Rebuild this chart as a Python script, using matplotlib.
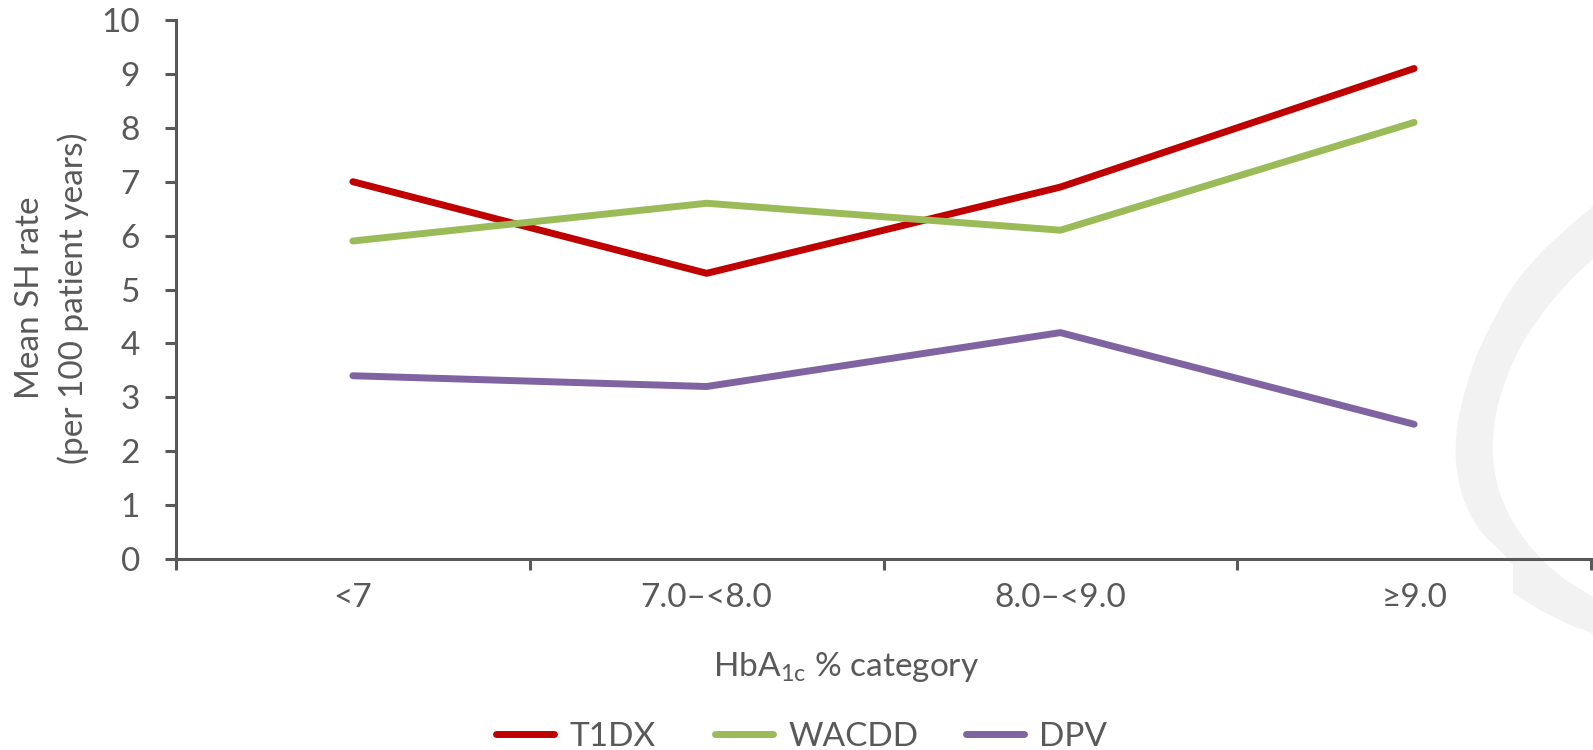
import numpy as np
import matplotlib
matplotlib.use("Agg")
import matplotlib.pyplot as plt
from matplotlib.patches import Polygon

categorias = ["<7", "7.0\u2013<8.0", "8.0\u2013<9.0", "\u22659.0"]
t1dx = [7.0, 5.3, 6.9, 9.1]
wacdd = [5.9, 6.6, 6.1, 8.1]
dpv = [3.4, 3.2, 4.2, 2.5]

series = [("T1DX", t1dx, "#C00000"),
          ("WACDD", wacdd, "#9BBB59"),
          ("DPV", dpv, "#8064A2")]

gris = "#595959"
plt.rcParams['font.family'] = ['Lato', 'DejaVu Sans']
plt.rcParams['font.size'] = 24

W, H = 1593, 750
fig = plt.figure(figsize=(W / 100, H / 100), dpi=100)


def suavizar(pts, veces=3):
    # Chaikin, solo para que la marca de agua no se vea poligonal
    p = np.array(pts, dtype=float)
    for _ in range(veces):
        q = 0.75 * p[:-1] + 0.25 * p[1:]
        r = 0.25 * p[:-1] + 0.75 * p[1:]
        nuevo = np.empty((2 * len(q), 2))
        nuevo[0::2] = q
        nuevo[1::2] = r
        p = np.vstack([p[:1], nuevo, p[-1:]])
    return p


# marca de agua gris claro a la derecha (en pixeles de figura)
exterior = [(1600, 200), (1565, 230), (1540, 253), (1513, 285), (1493, 320),
            (1475, 358), (1463, 397), (1457, 425), (1455, 453), (1458, 480),
            (1465, 505), (1480, 532), (1500, 550), (1513, 565)]
abajo = [(1513, 565), (1513, 593), (1540, 610), (1570, 625), (1600, 636)]
interior = [(1600, 601), (1560, 577), (1530, 548), (1508, 515), (1496, 483),
            (1492, 450), (1495, 415), (1505, 380), (1522, 342), (1548, 305),
            (1575, 275), (1600, 253)]
contorno = np.vstack([suavizar(exterior), np.array(abajo[1:], float),
                      suavizar(interior)])
puntos = [(x / W, 1 - y / H) for x, y in contorno]
fig.add_artist(Polygon(puntos, closed=True, transform=fig.transFigure,
                       facecolor="#F2F2F2", edgecolor="none", zorder=0))

ax = fig.add_axes([176 / W, 1 - 559 / H, (1591 - 176) / W, (559 - 20) / H])
ax.set_facecolor("none")

x = np.arange(len(categorias))
lineas = []
for nombre, valores, color in series:
    linea, = ax.plot(x, valores, color=color, lw=5, label=nombre,
                     solid_capstyle="round", solid_joinstyle="round")
    lineas.append(linea)

ax.set_xlim(-0.5, len(categorias) - 0.5)
ax.set_ylim(0, 10)
ax.set_yticks(range(0, 11))

ax.set_xticks(np.arange(-0.5, len(categorias), 1.0))
ax.set_xticklabels([])
ax.set_xticks(x, minor=True)
ax.set_xticklabels(categorias, minor=True)
ax.tick_params(axis="x", which="minor", length=0, pad=17, colors=gris)
ax.tick_params(axis="x", which="major", length=8, width=2.2, color=gris)
ax.tick_params(axis="y", length=8, width=2.2, color=gris, labelcolor=gris, pad=18)

for lado in ["top", "right"]:
    ax.spines[lado].set_visible(False)
for lado in ["left", "bottom"]:
    ax.spines[lado].set_color(gris)
    ax.spines[lado].set_linewidth(2.2)

fig.text(52 / W, 1 - 298 / H, "Mean SH rate\n(per 100 patient years)",
         rotation=90, ha="center", va="center", color=gris,
         linespacing=1.5, multialignment="center")
fig.text(846 / W, 1 - 667 / H, "HbA$_{\\mathregular{1c}}$ % category",
         ha="center", va="center", color=gris)

# leyenda: una entrada por columna, con el ancho fijo como en el original
inicio_x = [496, 715, 966]
for linea, x0 in zip(lineas, inicio_x):
    fig.legend([linea], [linea.get_label()], loc="center left",
               bbox_to_anchor=(x0 / W, 1 - 737 / H), frameon=False,
               borderpad=0, borderaxespad=0, handlelength=1.75,
               handletextpad=0.45, labelcolor=gris)

fig.savefig("out.png", dpi=100)
